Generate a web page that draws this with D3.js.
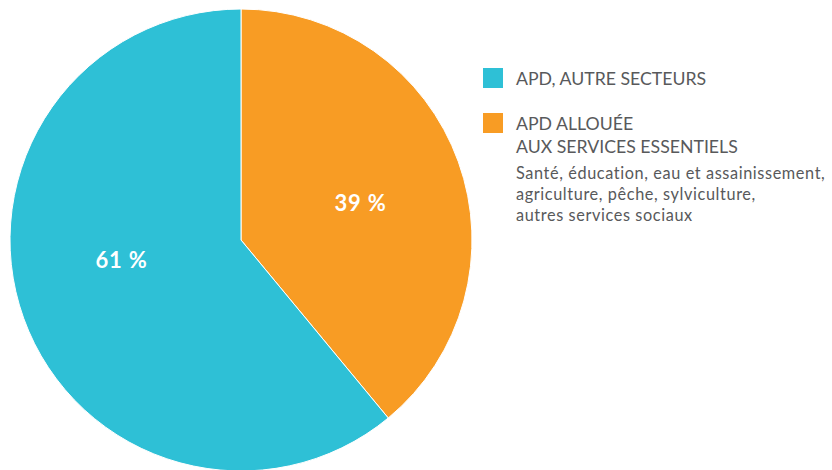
<!DOCTYPE html>
<html lang="fr">
<head>
    <meta charset="UTF-8">
    <script src="https://cdn.jsdelivr.net/npm/d3@7"></script>
    <title>APD</title>
    <style>
        body { margin: 0; background: #fff; }
        svg { display: block; }
    </style>
</head>
<body>
<script>

    // valeurs (en %)
    let categories = ["APD ALLOUÉE AUX SERVICES ESSENTIELS", "APD, AUTRE SECTEURS"],
        values = [39, 61],
        colors = ["#f89c24", "#2ec0d6"],
        pctLabels = ["39 %", "61 %"]

    let legendLabels = [
        ["APD, AUTRE SECTEURS"],
        ["APD ALLOUÉE", "AUX SERVICES ESSENTIELS"]
    ]
    let legendColors = ["#2ec0d6", "#f89c24"]
    let legendNote = [
        "Santé, éducation, eau et assainissement,",
        "agriculture, pêche, sylviculture,",
        "autres services sociaux"
    ]

    let width = 832,
        height = 470,
        cx = 241,
        cy = 240,
        radius = 231,
        font = "Lato, sans-serif"

    let svg = d3.select("body")
        .append("svg")
        .attr("width", width)
        .attr("height", height)

    let pie = d3.pie().sort(null).value(d => d)
    let arc = d3.arc().innerRadius(0).outerRadius(radius)
    let labelArc = d3.arc().innerRadius(127).outerRadius(127)

    let g = svg.append("g").attr("transform", `translate(${cx},${cy})`)
    let arcs = pie(values)

    g.selectAll("path")
        .data(arcs)
        .enter()
        .append("path")
        .attr("d", arc)
        .attr("fill", (d, i) => colors[i])
        .attr("stroke", "#fff")
        .attr("stroke-width", 1)

    // petits décalages verticaux pour les étiquettes
    let labelDy = [14, -15]
    g.selectAll("text.pct")
        .data(arcs)
        .enter()
        .append("text")
        .attr("class", "pct")
        .attr("x", d => labelArc.centroid(d)[0])
        .attr("y", (d, i) => labelArc.centroid(d)[1] + labelDy[i])
        .attr("text-anchor", "middle")
        .attr("font-family", font)
        .attr("font-weight", 700)
        .attr("font-size", 22)
        .attr("letter-spacing", 0.8)
        .attr("fill", "#fff")
        .text((d, i) => pctLabels[i])

    // légende
    let legend = svg.append("g").attr("transform", "translate(483,68)")
    let rowY = [0, 45]
    legendLabels.forEach(function (lines, i) {
        let row = legend.append("g").attr("transform", `translate(0,${rowY[i]})`)
        row.append("rect")
            .attr("width", 20)
            .attr("height", 20)
            .attr("fill", legendColors[i])
        lines.forEach(function (t, j) {
            row.append("text")
                .attr("x", 33)
                .attr("y", 17 + j * 22.5)
                .attr("font-family", font)
                .attr("font-size", 17.7)
                .attr("fill", "#58595b")
                .text(t)
        })
    })
    legendNote.forEach(function (t, j) {
        legend.append("text")
            .attr("x", 33)
            .attr("y", 110.5 + j * 21.2)
            .attr("font-family", font)
            .attr("font-size", 16.3)
            .attr("letter-spacing", 0.6)
            .attr("fill", "#58595b")
            .text(t)
    })

</script>
</body>
</html>
